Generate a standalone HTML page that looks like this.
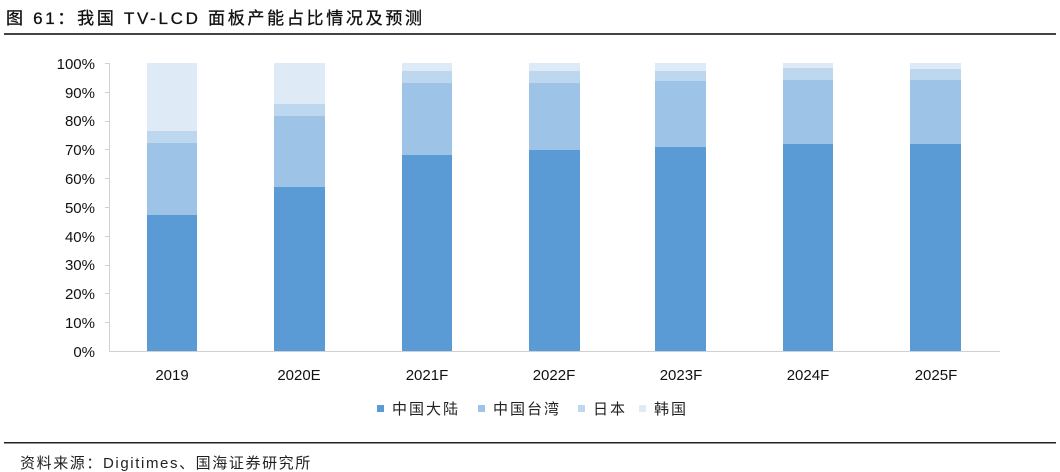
<!DOCTYPE html>
<html><head><meta charset="utf-8"><style>
html,body{margin:0;padding:0;background:#fff;width:1060px;height:472px;overflow:hidden}
svg{display:block}
text{font-family:"Liberation Sans","Noto Sans CJK SC",sans-serif}
</style></head><body>
<svg width="1060" height="472" viewBox="0 0 1060 472" xmlns="http://www.w3.org/2000/svg">
<text x="6" y="24" font-size="17" fill="#111" letter-spacing="2.7" font-family="'Liberation Sans','Noto Serif CJK SC',serif" stroke="#111" stroke-width="0.3">图 61：我国 TV-LCD 面板产能占比情况及预测</text>
<rect x="4" y="33" width="1052" height="2" fill="#444"/>
<g font-size="15" fill="#111" text-anchor="end">
<text x="95" y="69">100%</text><text x="95" y="98">90%</text><text x="95" y="126">80%</text>
<text x="95" y="155">70%</text><text x="95" y="184">60%</text><text x="95" y="213">50%</text>
<text x="95" y="242">40%</text><text x="95" y="270">30%</text><text x="95" y="299">20%</text>
<text x="95" y="328">10%</text><text x="95" y="357">0%</text>
</g>
<g stroke="#d0d0d0" stroke-width="1">
<line x1="109.5" y1="63" x2="109.5" y2="351"/>
<line x1="109" y1="351.5" x2="1000" y2="351.5"/>
<line x1="105" y1="63.5" x2="109" y2="63.5"/><line x1="105" y1="92.5" x2="109" y2="92.5"/>
<line x1="105" y1="121.5" x2="109" y2="121.5"/><line x1="105" y1="149.5" x2="109" y2="149.5"/>
<line x1="105" y1="178.5" x2="109" y2="178.5"/><line x1="105" y1="207.5" x2="109" y2="207.5"/>
<line x1="105" y1="236.5" x2="109" y2="236.5"/><line x1="105" y1="265.5" x2="109" y2="265.5"/>
<line x1="105" y1="293.5" x2="109" y2="293.5"/><line x1="105" y1="322.5" x2="109" y2="322.5"/>
</g>
<g>
<rect x="147" y="63" width="50" height="68" fill="#deebf7"/>
<rect x="147" y="131" width="50" height="12" fill="#bdd7ee"/>
<rect x="147" y="143" width="50" height="72" fill="#9dc3e6"/>
<rect x="147" y="215" width="50" height="136" fill="#5b9bd5"/>
<rect x="274" y="63" width="51" height="41" fill="#deebf7"/>
<rect x="274" y="104" width="51" height="12" fill="#bdd7ee"/>
<rect x="274" y="116" width="51" height="71" fill="#9dc3e6"/>
<rect x="274" y="187" width="51" height="164" fill="#5b9bd5"/>
<rect x="402" y="63" width="50" height="8" fill="#deebf7"/>
<rect x="402" y="71" width="50" height="12" fill="#bdd7ee"/>
<rect x="402" y="83" width="50" height="72" fill="#9dc3e6"/>
<rect x="402" y="155" width="50" height="196" fill="#5b9bd5"/>
<rect x="529" y="63" width="51" height="8" fill="#deebf7"/>
<rect x="529" y="71" width="51" height="12" fill="#bdd7ee"/>
<rect x="529" y="83" width="51" height="67" fill="#9dc3e6"/>
<rect x="529" y="150" width="51" height="201" fill="#5b9bd5"/>
<rect x="655" y="63" width="51" height="8" fill="#deebf7"/>
<rect x="655" y="71" width="51" height="10" fill="#bdd7ee"/>
<rect x="655" y="81" width="51" height="66" fill="#9dc3e6"/>
<rect x="655" y="147" width="51" height="204" fill="#5b9bd5"/>
<rect x="783" y="63" width="50" height="5" fill="#deebf7"/>
<rect x="783" y="68" width="50" height="12" fill="#bdd7ee"/>
<rect x="783" y="80" width="50" height="64" fill="#9dc3e6"/>
<rect x="783" y="144" width="50" height="207" fill="#5b9bd5"/>
<rect x="910" y="63" width="51" height="6" fill="#deebf7"/>
<rect x="910" y="69" width="51" height="11" fill="#bdd7ee"/>
<rect x="910" y="80" width="51" height="64" fill="#9dc3e6"/>
<rect x="910" y="144" width="51" height="207" fill="#5b9bd5"/>
</g>
<g font-size="15" fill="#111" text-anchor="middle">
<text x="172" y="380">2019</text><text x="299" y="380">2020E</text><text x="427" y="380">2021F</text>
<text x="554" y="380">2022F</text><text x="681" y="380">2023F</text><text x="808" y="380">2024F</text>
<text x="936" y="380">2025F</text>
</g>
<g font-size="15" fill="#222" letter-spacing="2">
<rect x="377" y="405" width="7" height="7" fill="#5b9bd5"/><text x="392" y="414">中国大陆</text>
<rect x="478" y="405" width="7" height="7" fill="#9dc3e6"/><text x="493" y="414">中国台湾</text>
<rect x="578" y="405" width="7" height="7" fill="#bdd7ee"/><text x="593" y="414">日本</text>
<rect x="639" y="405" width="7" height="7" fill="#deebf7"/><text x="654" y="414">韩国</text>
</g>
<rect x="4" y="442" width="1052" height="1.5" fill="#222"/>
<text x="20" y="468" font-size="15" fill="#222" letter-spacing="1.6">资料来源：Digitimes、国海证券研究所</text>
</svg>
</body></html>
